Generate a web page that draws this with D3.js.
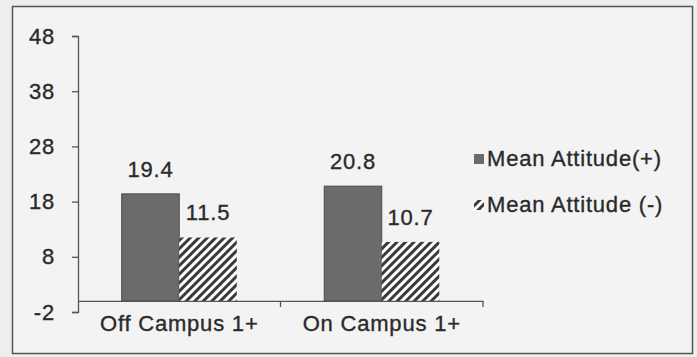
<!DOCTYPE html>
<html>
<head>
<meta charset="utf-8">
<script src="https://cdn.jsdelivr.net/npm/d3@7"></script>
<style>
  html, body { margin: 0; padding: 0; background: #eeeeee; }
  svg text { font-family: "Liberation Sans", Arial, sans-serif; fill: #2a2a2a; stroke: #2a2a2a; stroke-width: 0.35px; }
</style>
</head>
<body>
<svg id="chart" width="697" height="357"></svg>
<script>
// Chart data
const categories = ["Off Campus 1+", "On Campus 1+"];
const seriesNames = ["Mean Attitude(+)", "Mean Attitude (-)"];
const positiveValues = [19.4, 20.8];
const negativeValues = [11.5, 10.7];
const yTicks = [-2, 8, 18, 28, 38, 48];

const svg = d3.select("#chart");
const fontSize = 22;
const spacing = "0.8px";

// pattern for the negative series
const defs = svg.append("defs");
const pat = defs.append("pattern")
  .attr("id", "hatch")
  .attr("patternUnits", "userSpaceOnUse")
  .attr("width", 6).attr("height", 6)
  .attr("patternTransform", "rotate(45)");
pat.append("rect").attr("width", 6).attr("height", 6).attr("fill", "#ffffff");
pat.append("rect").attr("width", 3).attr("height", 6).attr("fill", "#3a3a3a");

// outer frame
svg.append("rect")
  .attr("x", 12.5).attr("y", 6.5).attr("width", 680).attr("height", 347)
  .attr("fill", "#f3f3f3").attr("stroke", "#555").attr("stroke-width", 1.5);

const plot = { left: 78, right: 483 };
const y = d3.scaleLinear().domain([-2, 48]).range([312, 36]);
const x0 = d3.scaleBand().domain(categories).range([plot.left, plot.right]).padding(0);
const x1 = d3.scaleBand().domain(seriesNames).range([0, x0.bandwidth()])
  .paddingInner(0).paddingOuter(0.76);

// y axis
const yAxis = d3.axisLeft(y).tickValues(yTicks).tickSize(6).tickPadding(17)
  .tickFormat(d => String(d));
const gy = svg.append("g").attr("transform", `translate(${plot.left},0)`).call(yAxis);
gy.select(".domain").attr("stroke", "#555").attr("stroke-width", 1.3);
gy.selectAll(".tick line").attr("stroke", "#555").attr("stroke-width", 1.3);
gy.selectAll(".tick text")
  .style("font-size", fontSize + "px").style("letter-spacing", spacing)
  .attr("fill", "#2a2a2a");

// bars
const colors = ["#6b6b6b", "url(#hatch)"];
const seriesValues = [positiveValues, negativeValues];
const groups = svg.append("g").selectAll("g")
  .data(categories).join("g")
  .attr("transform", d => `translate(${x0(d)},0)`);

groups.selectAll("rect")
  .data((c, ci) => seriesNames.map((s, si) => ({ s, si, v: seriesValues[si][ci] })))
  .join("rect")
  .attr("x", d => x1(d.s))
  .attr("y", d => y(d.v))
  .attr("width", x1.bandwidth())
  .attr("height", d => y(0) - y(d.v))
  .attr("fill", d => colors[d.si])
  .attr("stroke", d => d.si === 0 ? "#4a4a4a" : "none")
  .attr("stroke-width", 1);

groups.selectAll("text.val")
  .data((c, ci) => seriesNames.map((s, si) => ({ s, si, v: seriesValues[si][ci] })))
  .join("text")
  .attr("class", "val")
  .attr("x", d => x1(d.s) + x1.bandwidth() / 2)
  .attr("y", d => y(d.v) - 17)
  .attr("text-anchor", "middle")
  .style("font-size", fontSize + "px").style("letter-spacing", spacing)
  .text(d => d.v.toFixed(1));

// x axis at zero
const xAxis = d3.axisBottom(x0).tickSize(0).tickPadding(14);
const gx = svg.append("g").attr("transform", `translate(0,${y(0)})`).call(xAxis);
gx.select(".domain").attr("stroke", "#555").attr("stroke-width", 1.3);
gx.selectAll(".tick text")
  .style("font-size", fontSize + "px").style("letter-spacing", spacing)
  .attr("fill", "#2a2a2a");
// category separators
svg.append("g").selectAll("line")
  .data([categories[1], null])
  .join("line")
  .attr("x1", d => d ? x0(d) : plot.right)
  .attr("x2", d => d ? x0(d) : plot.right)
  .attr("y1", y(0)).attr("y2", y(0) + 6)
  .attr("stroke", "#555").attr("stroke-width", 1.3);

// legend
const legend = svg.append("g").attr("transform", "translate(474,0)");
const legendY = [166, 212];
seriesNames.forEach((s, i) => {
  legend.append("rect")
    .attr("x", 0).attr("y", legendY[i] - 12)
    .attr("width", 10).attr("height", 10)
    .attr("fill", colors[i]);
  legend.append("text")
    .attr("x", 13).attr("y", legendY[i])
    .style("font-size", fontSize + "px").style("letter-spacing", spacing)
    .text(s);
});
</script>
</body>
</html>
